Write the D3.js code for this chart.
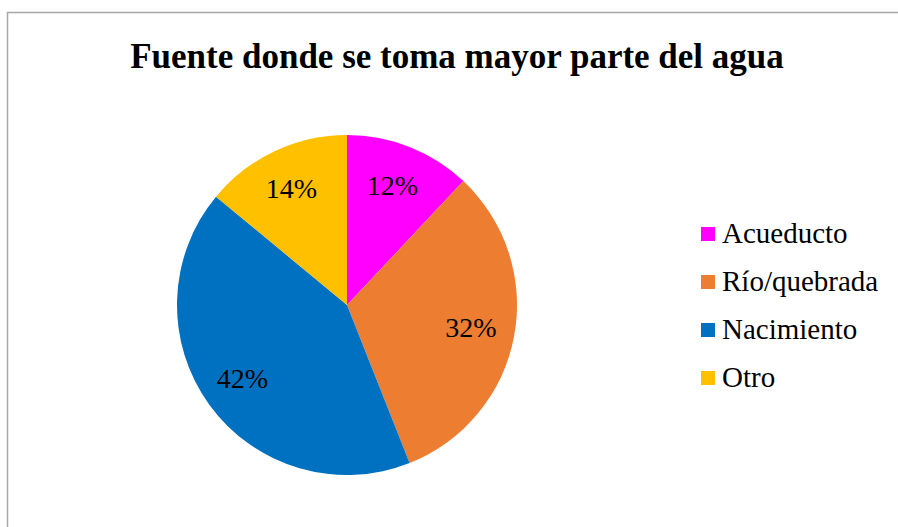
<!DOCTYPE html>
<html>
<head>
<meta charset="UTF-8">
<script src="https://d3js.org/d3.v7.min.js"></script>
</head>
<body style="margin:0">
<script>
  var categories = ["Acueducto", "Río/quebrada", "Nacimiento", "Otro"];
  var values = [12, 32, 42, 14];
  var colors = ["#ff00ff", "#ed7d31", "#0070c0", "#ffc000"];

  var width = 898, height = 527;
  var cx = 347, cy = 305, radius = 170;
  var serif = "'Liberation Serif'";

  var svg = d3.select("body").append("svg")
    .attr("width", width)
    .attr("height", height);

  // chart frame
  svg.append("rect")
    .attr("x", 7.5).attr("y", 12.5)
    .attr("width", 900).attr("height", 540)
    .attr("fill", "#fff")
    .attr("stroke", "#a6a6a6")
    .attr("stroke-width", 1.5);

  svg.append("text")
    .attr("x", 457).attr("y", 68)
    .attr("text-anchor", "middle")
    .style("font-family", serif)
    .style("font-size", "35px")
    .style("font-weight", "bold")
    .text("Fuente donde se toma mayor parte del agua");

  var data = categories.map(function (c, i) { return { name: c, value: values[i] }; });
  var color = d3.scaleOrdinal().domain(categories).range(colors);

  var pie = d3.pie().value(function (d) { return d.value; }).sort(null);
  var arc = d3.arc().innerRadius(0).outerRadius(radius);
  var labelArc = d3.arc().innerRadius(radius * 0.75).outerRadius(radius * 0.75);

  var g = svg.append("g").attr("transform", "translate(" + cx + "," + cy + ")");
  var slices = g.selectAll("g.slice")
    .data(pie(data))
    .enter().append("g")
    .attr("class", "slice");
  slices.append("path")
    .attr("d", arc)
    .attr("fill", function (d) { return color(d.data.name); });
  slices.append("text")
    .attr("transform", function (d) { return "translate(" + labelArc.centroid(d) + ")"; })
    .attr("text-anchor", "middle")
    .attr("dy", "0.3em")
    .attr("dx", "-0.05em")
    .style("font-family", serif)
    .style("font-size", "28px")
    .text(function (d) { return d.data.value + "%"; });

  var y = d3.scalePoint().domain(categories).range([233, 377]);
  var legend = svg.selectAll("g.legend")
    .data(categories)
    .enter().append("g")
    .attr("class", "legend")
    .attr("transform", function (d) { return "translate(701," + y(d) + ")"; });
  legend.append("rect")
    .attr("x", 0).attr("y", -6)
    .attr("width", 14).attr("height", 14)
    .attr("fill", function (d) { return color(d); });
  legend.append("text")
    .attr("x", 21).attr("dy", "0.35em")
    .style("font-family", serif)
    .style("font-size", "29px")
    .text(function (d) { return d; });
</script>
</body>
</html>
